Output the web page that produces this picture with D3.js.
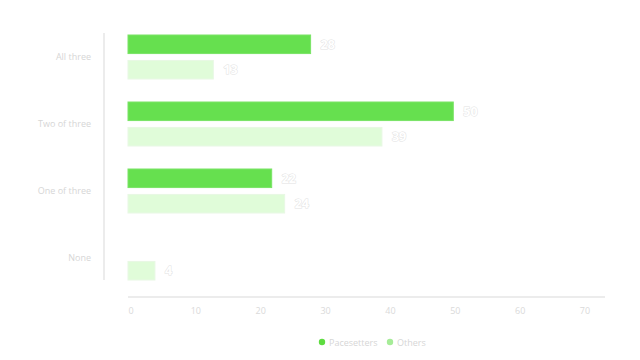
<!DOCTYPE html>
<html>
<head>
<meta charset="utf-8">
<script src="https://cdn.jsdelivr.net/npm/d3@7"></script>
<style>
  html, body { margin: 0; padding: 0; background: #fff; }
  svg { display: block; font-family: "Open Sans", "DejaVu Sans", sans-serif; }
</style>
</head>
<body>
<svg id="chart" width="640" height="360"></svg>
<script>
const categories = ["All three", "Two of three", "One of three", "None"];
const seriesNames = ["Pacesetters", "Others"];
const pacesetters = [28, 50, 22, null];
const others = [13, 39, 24, 4];
const xTicks = [0, 10, 20, 30, 40, 50, 60, 70];

const colors = { Pacesetters: "#66e04f", Others: "#e0fcd9" };
const strokes = { Pacesetters: "#7ae466", Others: "#e8f8e4" };
const legendColors = { Pacesetters: "#5edc40", Others: "#a6ec98" };

const svg = d3.select("#chart");
const x = d3.scaleLinear().domain([0, 70]).range([129, 583]);
const y = d3.scaleBand().domain(categories).range([29, 297]).paddingInner(0).paddingOuter(0);
const sub = d3.scaleBand().domain(seriesNames).range([6, 50]).paddingInner(0.27);

// vertical axis line
svg.append("line").attr("x1", 104).attr("x2", 104).attr("y1", 33).attr("y2", 280)
  .attr("stroke", "#ececec").attr("stroke-width", 2);

// category labels
svg.append("g").selectAll("text").data(categories).join("text")
  .attr("x", 91).attr("y", d => y(d) + 31)
  .attr("text-anchor", "end").attr("font-size", 9).attr("fill", "#d6d6d6")
  .text(d => d);

const series = [
  { name: "Pacesetters", values: pacesetters },
  { name: "Others", values: others }
];

series.forEach(s => {
  const g = svg.append("g");
  const data = categories.map((c, i) => ({ c, v: s.values[i] })).filter(d => d.v != null);
  g.selectAll("rect").data(data).join("rect")
    .attr("x", x(0) - 1)
    .attr("y", d => y(d.c) + sub(s.name))
    .attr("width", d => x(d.v) - x(0) + 1)
    .attr("height", sub.bandwidth())
    .attr("fill", colors[s.name])
    .attr("stroke", strokes[s.name]).attr("stroke-width", 1);
  g.selectAll("text").data(data).join("text")
    .attr("x", d => x(d.v) + 10)
    .attr("y", d => y(d.c) + sub(s.name) + sub.bandwidth() / 2 + 4.5)
    .attr("font-size", 12.5).attr("font-weight", "bold")
    .attr("fill", "#ffffff").attr("stroke", "#e2e2e2").attr("stroke-width", 1)
    .attr("paint-order", "stroke")
    .text(d => d.v);
});

// x axis
svg.append("line").attr("x1", 128).attr("x2", 605).attr("y1", 297).attr("y2", 297)
  .attr("stroke", "#ececec").attr("stroke-width", 2);
svg.append("g").selectAll("text").data(xTicks).join("text")
  .attr("x", d => x(d) + 2).attr("y", 314)
  .attr("text-anchor", "middle").attr("font-size", 9).attr("fill", "#dadada")
  .text(d => d);

// legend
const legend = svg.append("g");
const legendItems = [
  { name: "Pacesetters", cx: 322 },
  { name: "Others", cx: 390 }
];
legendItems.forEach(it => {
  legend.append("circle").attr("cx", it.cx).attr("cy", 342).attr("r", 3.2)
    .attr("fill", legendColors[it.name]);
  legend.append("text").attr("x", it.cx + 7).attr("y", 345.5)
    .attr("font-size", 9).attr("fill", "#d6d6d6").text(it.name);
});
</script>
</body>
</html>
